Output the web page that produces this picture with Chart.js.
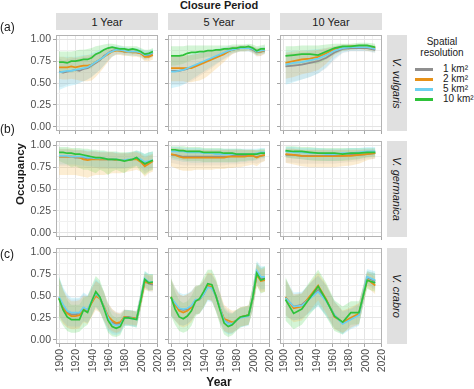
<!DOCTYPE html>
<html>
<head>
<meta charset="utf-8">
<script src="https://cdn.jsdelivr.net/npm/chart.js@4.4.1/dist/chart.umd.min.js"></script>
<style>
  html, body { margin: 0; padding: 0; background: #fff; }
  body { width: 474px; height: 389px; position: relative; overflow: hidden;
         font-family: "Liberation Sans", Arial, sans-serif; color: #1a1a1a; }
  .txt { position: absolute; white-space: nowrap; }
  .strip { position: absolute; background: #e0e0e0; color: #1a1a1a; font-size: 11px;
           display: flex; align-items: center; justify-content: center; }
  .rstrip { writing-mode: vertical-rl; font-style: italic; }
  .ylab { position: absolute; writing-mode: vertical-rl; transform: rotate(180deg);
          font-size: 10.5px; line-height: 12px; width: 12px; color: #4d4d4d; white-space: nowrap; }
  canvas { position: absolute; }
</style>
</head>
<body>
<script>
// ---- categories / ticks ----
const closure = ['1 Year', '5 Year', '10 Year'];
const species = ['V. vulgaris', 'V. germanica', 'V. crabro'];
const resolutions = ['1 km²', '2 km²', '5 km²', '10 km²'];
const rowTags = ['(a)', '(b)', '(c)'];

const years5  = [1900,1905,1910,1915,1920,1925,1930,1935,1940,1945,1950,1955,1960,1965,1970,1975,1980,1985,1990,1995,2000,2005,2010,2015];
const years10 = [1903,1913,1923,1933,1943,1953,1963,1973,1983,1993,2003,2013];

// ---- V. vulgaris, 1 year ----
const a1_k1     = [.63,.62,.63,.64,.65,.64,.66,.67,.70,.73,.76,.81,.84,.87,.88,.87,.86,.86,.86,.85,.84,.81,.82,.84];
const a1_k1_lo  = [.45,.46,.48,.50,.50,.50,.52,.54,.57,.61,.65,.70,.75,.80,.83,.83,.82,.82,.82,.81,.80,.76,.77,.80];
const a1_k1_hi  = [.78,.76,.77,.78,.79,.78,.80,.80,.82,.84,.86,.88,.90,.91,.91,.91,.90,.90,.90,.89,.88,.86,.86,.88];
const a1_k2     = [.68,.68,.68,.69,.68,.69,.70,.70,.71,.74,.77,.80,.83,.86,.87,.87,.86,.86,.85,.85,.84,.80,.80,.82];
const a1_k2_lo  = [.55,.54,.54,.55,.54,.53,.52,.52,.53,.57,.62,.68,.74,.80,.82,.82,.81,.81,.80,.80,.79,.75,.75,.77];
const a1_k2_hi  = [.80,.80,.79,.80,.79,.80,.81,.82,.82,.84,.86,.88,.90,.91,.91,.90,.89,.89,.88,.88,.87,.84,.84,.86];
const a1_k5     = [.62,.63,.64,.64,.65,.66,.67,.68,.71,.74,.77,.80,.84,.86,.88,.88,.87,.86,.86,.86,.85,.82,.83,.85];
const a1_k5_lo  = [.42,.44,.46,.47,.48,.50,.52,.54,.57,.61,.65,.70,.76,.80,.83,.83,.82,.81,.81,.81,.80,.77,.78,.80];
const a1_k5_hi  = [.80,.80,.80,.80,.80,.81,.82,.82,.84,.86,.88,.89,.91,.92,.92,.92,.91,.90,.90,.90,.89,.87,.87,.89];
const a1_k10    = [.74,.74,.73,.75,.75,.76,.77,.77,.79,.83,.85,.88,.90,.91,.90,.89,.89,.88,.89,.88,.86,.83,.84,.86];
const a1_k10_lo = [.62,.61,.62,.62,.63,.64,.66,.66,.67,.72,.75,.78,.84,.86,.86,.85,.84,.84,.83,.84,.82,.78,.79,.82];
const a1_k10_hi = [.86,.86,.86,.86,.87,.88,.88,.89,.90,.92,.93,.94,.95,.95,.94,.93,.92,.92,.92,.92,.90,.88,.88,.90];

// ---- V. vulgaris, 5 year ----
const a2_k1     = [.64,.64,.64,.65,.66,.68,.70,.72,.74,.76,.78,.80,.82,.84,.86,.88,.89,.90,.90,.90,.88,.85,.86,.87];
const a2_k1_lo  = [.48,.48,.48,.49,.50,.52,.55,.58,.61,.64,.67,.71,.74,.77,.80,.83,.85,.86,.86,.86,.84,.80,.81,.83];
const a2_k1_hi  = [.80,.80,.80,.80,.81,.82,.83,.84,.85,.86,.87,.88,.89,.90,.91,.92,.92,.93,.93,.93,.92,.89,.90,.91];
const a2_k2     = [.67,.67,.67,.67,.67,.67,.69,.71,.73,.75,.77,.79,.81,.83,.86,.88,.89,.90,.90,.91,.89,.86,.86,.88];
const a2_k2_lo  = [.52,.52,.52,.52,.51,.51,.52,.53,.55,.58,.62,.66,.70,.74,.79,.83,.85,.86,.86,.87,.85,.81,.81,.84];
const a2_k2_hi  = [.82,.82,.82,.82,.82,.82,.83,.84,.85,.86,.87,.88,.89,.90,.91,.92,.92,.93,.93,.93,.92,.90,.90,.91];
const a2_k5     = [.63,.63,.64,.65,.67,.69,.71,.73,.75,.77,.79,.81,.83,.85,.87,.88,.89,.90,.90,.90,.89,.86,.87,.88];
const a2_k5_lo  = [.44,.45,.46,.48,.51,.54,.57,.60,.63,.66,.69,.72,.75,.78,.81,.84,.85,.86,.86,.86,.85,.82,.83,.84];
const a2_k5_hi  = [.80,.80,.81,.81,.82,.83,.84,.85,.86,.87,.88,.89,.90,.91,.92,.92,.92,.93,.93,.93,.92,.90,.91,.92];
const a2_k10    = [.81,.81,.81,.82,.84,.85,.85,.86,.86,.87,.87,.88,.88,.89,.89,.90,.90,.91,.91,.92,.90,.87,.89,.89];
const a2_k10_lo = [.70,.70,.71,.72,.74,.76,.77,.78,.79,.80,.80,.81,.82,.83,.84,.85,.86,.87,.87,.88,.86,.82,.84,.84];
const a2_k10_hi = [.92,.92,.92,.92,.93,.93,.93,.93,.93,.93,.93,.93,.93,.93,.93,.94,.94,.94,.94,.95,.94,.92,.93,.94];

// ---- V. vulgaris, 10 year ----
const a3_k1     = [.69,.70,.71,.73,.75,.79,.85,.89,.90,.90,.90,.88];
const a3_k1_lo  = [.50,.52,.54,.57,.61,.67,.76,.84,.86,.86,.86,.84];
const a3_k1_hi  = [.84,.84,.85,.86,.87,.89,.91,.93,.93,.93,.93,.92];
const a3_k2     = [.73,.75,.77,.78,.80,.84,.89,.91,.92,.92,.91,.90];
const a3_k2_lo  = [.55,.57,.60,.62,.65,.72,.82,.87,.88,.89,.87,.86];
const a3_k2_hi  = [.85,.86,.87,.87,.88,.90,.92,.94,.94,.94,.94,.93];
const a3_k5     = [.71,.73,.74,.76,.78,.82,.87,.90,.91,.91,.91,.89];
const a3_k5_lo  = [.48,.51,.54,.57,.61,.68,.78,.85,.87,.87,.87,.85];
const a3_k5_hi  = [.86,.87,.87,.88,.89,.90,.92,.94,.94,.94,.94,.93];
const a3_k10    = [.81,.82,.83,.83,.82,.86,.90,.92,.92,.93,.93,.91];
const a3_k10_lo = [.68,.70,.72,.72,.72,.77,.83,.87,.88,.89,.89,.87];
const a3_k10_hi = [.92,.92,.93,.93,.93,.94,.95,.95,.95,.96,.96,.95];

// ---- V. germanica, 1 year ----
const b1_k1     = [.87,.87,.87,.87,.86,.86,.86,.85,.85,.85,.84,.84,.84,.84,.83,.83,.83,.83,.84,.85,.82,.78,.80,.82];
const b1_k1_lo  = [.76,.76,.76,.76,.76,.75,.75,.74,.74,.74,.73,.73,.73,.73,.73,.73,.73,.74,.75,.76,.73,.68,.71,.73];
const b1_k1_hi  = [.95,.95,.95,.95,.94,.94,.94,.93,.93,.93,.92,.92,.92,.92,.91,.91,.91,.91,.92,.93,.91,.88,.89,.91];
const b1_k2     = [.87,.87,.87,.87,.87,.86,.84,.83,.84,.84,.84,.84,.84,.84,.83,.83,.83,.83,.84,.84,.81,.76,.79,.82];
const b1_k2_lo  = [.66,.66,.66,.66,.66,.65,.64,.63,.65,.66,.66,.66,.67,.68,.68,.68,.69,.70,.71,.72,.70,.64,.68,.70];
const b1_k2_hi  = [.96,.96,.96,.96,.95,.95,.94,.93,.93,.93,.92,.92,.92,.92,.91,.91,.91,.91,.92,.92,.90,.86,.88,.90];
const b1_k5     = [.88,.88,.88,.87,.87,.87,.87,.86,.86,.85,.85,.85,.84,.84,.84,.83,.83,.84,.84,.86,.84,.81,.82,.83];
const b1_k5_lo  = [.78,.78,.78,.78,.78,.77,.77,.76,.76,.75,.75,.75,.74,.74,.74,.74,.74,.75,.76,.77,.75,.71,.73,.75];
const b1_k5_hi  = [.96,.96,.96,.95,.95,.95,.95,.94,.94,.93,.93,.93,.92,.92,.92,.91,.91,.92,.92,.94,.93,.90,.92,.93];
const b1_k10    = [.92,.92,.91,.91,.90,.90,.89,.88,.87,.86,.86,.85,.84,.84,.84,.83,.82,.83,.84,.86,.82,.79,.81,.83];
const b1_k10_lo = [.82,.80,.78,.75,.76,.74,.72,.72,.70,.68,.72,.70,.66,.70,.72,.70,.68,.72,.74,.76,.70,.66,.70,.72];
const b1_k10_hi = [.98,.98,.98,.97,.97,.97,.96,.96,.95,.95,.94,.94,.93,.93,.93,.92,.92,.92,.93,.94,.92,.90,.92,.93];

// ---- V. germanica, 5 year ----
const b2_k1     = [.89,.89,.88,.87,.87,.87,.87,.87,.87,.87,.87,.87,.87,.87,.87,.88,.88,.88,.88,.88,.88,.87,.88,.89];
const b2_k1_lo  = [.80,.79,.78,.77,.77,.77,.77,.77,.77,.77,.77,.77,.77,.77,.78,.78,.78,.79,.79,.80,.80,.79,.81,.82];
const b2_k1_hi  = [.96,.96,.96,.95,.95,.95,.95,.95,.95,.95,.95,.95,.95,.95,.95,.95,.95,.95,.95,.95,.95,.94,.95,.95];
const b2_k2     = [.90,.89,.87,.86,.86,.86,.86,.86,.86,.86,.86,.86,.86,.86,.87,.87,.87,.87,.87,.88,.88,.86,.88,.89];
const b2_k2_lo  = [.76,.74,.72,.71,.71,.71,.72,.72,.72,.72,.72,.73,.73,.73,.74,.74,.75,.75,.76,.77,.78,.76,.80,.82];
const b2_k2_hi  = [.97,.97,.96,.96,.95,.95,.95,.95,.95,.95,.95,.95,.95,.95,.95,.95,.95,.95,.95,.95,.95,.94,.95,.95];
const b2_k5     = [.93,.93,.93,.93,.92,.92,.92,.92,.91,.91,.91,.90,.90,.90,.90,.90,.90,.90,.90,.90,.90,.91,.92,.92];
const b2_k5_lo  = [.84,.83,.82,.81,.81,.80,.80,.80,.80,.80,.80,.80,.80,.80,.80,.80,.80,.81,.81,.82,.82,.83,.85,.85];
const b2_k5_hi  = [.98,.98,.98,.97,.97,.97,.97,.97,.96,.96,.96,.96,.96,.96,.96,.96,.96,.96,.96,.96,.96,.96,.97,.97];
const b2_k10    = [.95,.95,.94,.94,.93,.93,.93,.93,.92,.92,.92,.92,.92,.91,.91,.91,.90,.90,.90,.90,.90,.90,.91,.91];
const b2_k10_lo = [.86,.85,.84,.83,.82,.82,.82,.82,.81,.81,.81,.81,.81,.81,.81,.81,.81,.82,.82,.83,.83,.84,.86,.86];
const b2_k10_hi = [.99,.99,.99,.99,.98,.98,.98,.98,.97,.97,.97,.97,.97,.96,.96,.96,.96,.96,.95,.95,.95,.95,.96,.96];

// ---- V. germanica, 10 year ----
const b3_k1     = [.89,.89,.88,.88,.88,.88,.88,.88,.89,.89,.90,.91];
const b3_k1_lo  = [.80,.80,.79,.79,.79,.79,.79,.80,.81,.82,.84,.85];
const b3_k1_hi  = [.96,.96,.95,.95,.95,.95,.95,.95,.95,.95,.96,.96];
const b3_k2     = [.90,.89,.88,.875,.875,.875,.875,.88,.88,.89,.90,.91];
const b3_k2_lo  = [.80,.78,.76,.75,.75,.75,.75,.76,.77,.79,.83,.85];
const b3_k2_hi  = [.96,.96,.95,.95,.95,.95,.95,.95,.95,.95,.95,.95];
const b3_k5     = [.93,.92,.92,.91,.91,.90,.90,.91,.91,.92,.93,.93];
const b3_k5_lo  = [.86,.85,.84,.83,.83,.82,.82,.83,.84,.85,.87,.88];
const b3_k5_hi  = [.98,.98,.97,.97,.97,.96,.96,.96,.97,.97,.98,.98];
const b3_k10    = [.94,.93,.93,.92,.91,.91,.91,.90,.91,.91,.92,.92];
const b3_k10_lo = [.86,.85,.84,.83,.82,.82,.82,.82,.83,.84,.86,.87];
const b3_k10_hi = [.99,.99,.98,.98,.97,.97,.97,.97,.97,.97,.97,.97];

// ---- V. crabro, 1 year ----
const c1_k1     = [.48,.38,.31,.29,.29,.30,.36,.34,.43,.52,.48,.37,.26,.20,.18,.18,.26,.26,.25,.24,.45,.67,.64,.63];
const c1_k1_lo  = [.27,.19,.14,.13,.13,.14,.21,.19,.27,.36,.32,.22,.12,.08,.07,.08,.17,.17,.16,.16,.36,.58,.55,.54];
const c1_k1_hi  = [.70,.58,.50,.46,.46,.47,.52,.50,.59,.68,.64,.54,.42,.35,.32,.31,.35,.34,.34,.33,.54,.76,.73,.72];
const c1_k2     = [.48,.36,.30,.27,.27,.28,.35,.33,.42,.50,.47,.38,.27,.22,.19,.20,.26,.25,.25,.24,.44,.66,.65,.65];
const c1_k2_lo  = [.27,.18,.14,.12,.12,.13,.20,.18,.26,.34,.31,.22,.13,.10,.08,.10,.18,.17,.17,.16,.35,.57,.56,.56];
const c1_k2_hi  = [.70,.56,.48,.44,.44,.45,.50,.49,.58,.67,.64,.55,.42,.35,.31,.30,.34,.33,.33,.32,.53,.75,.74,.74];
const c1_k5     = [.49,.40,.33,.31,.31,.31,.37,.34,.44,.53,.48,.37,.25,.18,.16,.17,.25,.25,.24,.23,.46,.70,.66,.66];
const c1_k5_lo  = [.28,.21,.16,.15,.15,.15,.21,.19,.28,.37,.32,.21,.10,.06,.05,.07,.16,.16,.15,.14,.37,.61,.57,.57];
const c1_k5_hi  = [.72,.60,.52,.48,.48,.48,.54,.51,.60,.70,.65,.55,.41,.33,.30,.29,.34,.34,.33,.32,.55,.79,.75,.75];
const c1_k10    = [.47,.34,.26,.23,.23,.23,.34,.31,.44,.55,.49,.36,.22,.15,.13,.15,.25,.25,.24,.23,.45,.69,.65,.66];
const c1_k10_lo = [.24,.16,.10,.08,.08,.09,.14,.17,.27,.38,.32,.20,.08,.04,.03,.05,.16,.16,.15,.14,.34,.60,.56,.57];
const c1_k10_hi = [.72,.58,.45,.40,.40,.40,.48,.50,.62,.73,.68,.55,.38,.28,.25,.26,.34,.34,.33,.32,.55,.78,.75,.75];

// ---- V. crabro, 5 year ----
const c2_k1     = [.48,.41,.35,.34,.35,.38,.45,.46,.52,.61,.60,.50,.36,.23,.19,.18,.22,.26,.27,.28,.47,.76,.70,.70];
const c2_k1_lo  = [.28,.22,.17,.16,.18,.22,.29,.30,.37,.46,.44,.33,.20,.10,.07,.07,.11,.15,.16,.17,.34,.63,.56,.56];
const c2_k1_hi  = [.68,.58,.52,.50,.52,.55,.61,.62,.67,.76,.75,.67,.53,.38,.34,.31,.34,.37,.38,.39,.59,.88,.82,.83];
const c2_k2     = [.49,.40,.33,.31,.33,.37,.45,.46,.53,.62,.60,.50,.36,.24,.22,.20,.22,.26,.27,.28,.47,.74,.67,.68];
const c2_k2_lo  = [.28,.22,.16,.14,.16,.20,.29,.30,.37,.46,.44,.33,.20,.10,.08,.08,.11,.15,.16,.17,.34,.62,.54,.55];
const c2_k2_hi  = [.70,.60,.52,.50,.52,.55,.62,.62,.68,.77,.76,.68,.54,.40,.36,.33,.34,.37,.38,.39,.60,.86,.80,.82];
const c2_k5     = [.48,.42,.36,.35,.36,.39,.46,.46,.52,.60,.59,.50,.36,.22,.18,.18,.22,.25,.26,.27,.48,.79,.72,.72];
const c2_k5_lo  = [.27,.22,.17,.16,.18,.22,.29,.30,.36,.44,.43,.33,.20,.09,.06,.07,.11,.14,.15,.16,.35,.66,.58,.58];
const c2_k5_hi  = [.70,.60,.54,.52,.53,.56,.62,.62,.67,.75,.74,.67,.53,.37,.32,.30,.34,.36,.37,.38,.60,.90,.84,.84];
const c2_k10    = [.49,.35,.26,.24,.27,.33,.44,.47,.55,.64,.63,.50,.34,.19,.15,.17,.22,.26,.27,.28,.48,.76,.68,.70];
const c2_k10_lo = [.27,.17,.10,.08,.10,.16,.27,.30,.37,.46,.45,.32,.17,.06,.03,.05,.10,.14,.16,.17,.33,.62,.53,.55];
const c2_k10_hi = [.70,.55,.45,.42,.44,.50,.60,.63,.72,.80,.80,.70,.52,.35,.30,.30,.34,.37,.38,.39,.62,.88,.82,.84];

// ---- V. crabro, 10 year ----
const c3_k1     = [.48,.38,.40,.48,.57,.45,.28,.19,.24,.29,.71,.67];
const c3_k1_lo  = [.28,.22,.24,.32,.40,.28,.13,.07,.13,.17,.62,.57];
const c3_k1_hi  = [.68,.52,.54,.64,.74,.62,.44,.33,.36,.41,.79,.76];
const c3_k2     = [.49,.36,.38,.50,.62,.46,.26,.20,.25,.30,.69,.62];
const c3_k2_lo  = [.28,.20,.22,.33,.45,.30,.12,.08,.14,.18,.60,.52];
const c3_k2_hi  = [.70,.52,.53,.65,.77,.63,.43,.33,.37,.42,.77,.72];
const c3_k5     = [.48,.38,.39,.47,.55,.44,.28,.18,.23,.28,.72,.68];
const c3_k5_lo  = [.27,.22,.24,.31,.38,.27,.13,.06,.12,.16,.64,.59];
const c3_k5_hi  = [.70,.54,.55,.65,.73,.62,.44,.32,.35,.40,.81,.78];
const c3_k10    = [.46,.30,.35,.48,.61,.45,.27,.20,.31,.31,.68,.65];
const c3_k10_lo = [.22,.12,.17,.29,.40,.26,.10,.06,.17,.18,.58,.55];
const c3_k10_hi = [.72,.50,.53,.67,.80,.65,.45,.38,.44,.44,.78,.76];

// ---- panel table built from the arrays ----
const panels = [
  [
    { yrs: years5,  mean: [a1_k1, a1_k2, a1_k5, a1_k10], lo: [a1_k1_lo, a1_k2_lo, a1_k5_lo, a1_k10_lo], hi: [a1_k1_hi, a1_k2_hi, a1_k5_hi, a1_k10_hi] },
    { yrs: years5,  mean: [a2_k1, a2_k2, a2_k5, a2_k10], lo: [a2_k1_lo, a2_k2_lo, a2_k5_lo, a2_k10_lo], hi: [a2_k1_hi, a2_k2_hi, a2_k5_hi, a2_k10_hi] },
    { yrs: years10, mean: [a3_k1, a3_k2, a3_k5, a3_k10], lo: [a3_k1_lo, a3_k2_lo, a3_k5_lo, a3_k10_lo], hi: [a3_k1_hi, a3_k2_hi, a3_k5_hi, a3_k10_hi] }
  ],
  [
    { yrs: years5,  mean: [b1_k1, b1_k2, b1_k5, b1_k10], lo: [b1_k1_lo, b1_k2_lo, b1_k5_lo, b1_k10_lo], hi: [b1_k1_hi, b1_k2_hi, b1_k5_hi, b1_k10_hi] },
    { yrs: years5,  mean: [b2_k1, b2_k2, b2_k5, b2_k10], lo: [b2_k1_lo, b2_k2_lo, b2_k5_lo, b2_k10_lo], hi: [b2_k1_hi, b2_k2_hi, b2_k5_hi, b2_k10_hi] },
    { yrs: years10, mean: [b3_k1, b3_k2, b3_k5, b3_k10], lo: [b3_k1_lo, b3_k2_lo, b3_k5_lo, b3_k10_lo], hi: [b3_k1_hi, b3_k2_hi, b3_k5_hi, b3_k10_hi] }
  ],
  [
    { yrs: years5,  mean: [c1_k1, c1_k2, c1_k5, c1_k10], lo: [c1_k1_lo, c1_k2_lo, c1_k5_lo, c1_k10_lo], hi: [c1_k1_hi, c1_k2_hi, c1_k5_hi, c1_k10_hi] },
    { yrs: years5,  mean: [c2_k1, c2_k2, c2_k5, c2_k10], lo: [c2_k1_lo, c2_k2_lo, c2_k5_lo, c2_k10_lo], hi: [c2_k1_hi, c2_k2_hi, c2_k5_hi, c2_k10_hi] },
    { yrs: years10, mean: [c3_k1, c3_k2, c3_k5, c3_k10], lo: [c3_k1_lo, c3_k2_lo, c3_k5_lo, c3_k10_lo], hi: [c3_k1_hi, c3_k2_hi, c3_k5_hi, c3_k10_hi] }
  ]
];

// ---- styling ----
const lineCols = ['#8f8f8f', '#e69118', '#6cd0f0', '#2ec23a'];
const bandCols = ['rgba(150,150,150,0.13)', 'rgba(245,185,80,0.26)', 'rgba(100,215,245,0.25)', 'rgba(60,210,70,0.22)'];
const panelLeft = [56, 168, 280];
const panelTop  = [35, 141, 248];
const PW = 102, PH = 96;
const FONT = 'Liberation Sans, Arial, sans-serif';

const isMajor = (v, step) => Math.abs(v / step - Math.round(v / step)) < 1e-6;
const pts = (xs, ys) => xs.map((x, i) => ({ x: x, y: ys[i] }));

// panel frame drawn around the chart area
const frame = {
  id: 'frame',
  afterDatasetsDraw(chart) {
    const { ctx, chartArea: a } = chart;
    ctx.save();
    ctx.strokeStyle = '#b3b3b3';
    ctx.lineWidth = 1;
    ctx.strokeRect(Math.round(a.left) + 0.5, Math.round(a.top) + 0.5, Math.round(a.width) - 1, Math.round(a.height) - 1);
    ctx.restore();
  }
};

function makePanel(r, c) {
  const p = panels[r][c];
  const padL = c === 0 ? 44 : 6, padB = 6, padT = 2, padR = 2;
  const cv = document.createElement('canvas');
  cv.width = padL + PW + padR;
  cv.height = padT + PH + padB;
  const cl = panelLeft[c] - padL, ct = panelTop[r] - padT;
  cv.style.left = cl + 'px';
  cv.style.top = ct + 'px';
  cv.style.width = cv.width + 'px';
  cv.style.height = cv.height + 'px';
  document.body.appendChild(cv);

  const ds = [];
  for (let k = 0; k < 4; k++) {
    ds.push({ data: pts(p.yrs, p.lo[k]), borderWidth: 0, borderColor: 'rgba(0,0,0,0)', pointRadius: 0, fill: false, order: 20 + k });
    ds.push({ data: pts(p.yrs, p.hi[k]), borderWidth: 0, borderColor: 'rgba(0,0,0,0)', pointRadius: 0,
              backgroundColor: bandCols[k], fill: '-1', order: 20 + k });
  }
  for (let k = 0; k < 4; k++) {
    ds.push({ data: pts(p.yrs, p.mean[k]), borderColor: lineCols[k], borderWidth: 1.7, pointRadius: 0, fill: false, order: 3 - k });
  }

  const chart = new Chart(cv, {
    type: 'line',
    data: { datasets: ds },
    options: {
      responsive: false,
      animation: false,
      devicePixelRatio: 1,
      layout: { padding: { top: padT, right: padR, left: 0, bottom: 0 } },
      elements: { line: { tension: 0 } },
      plugins: { legend: { display: false }, tooltip: { enabled: false } },
      scales: {
        x: {
          type: 'linear', min: 1896.3, max: 2021.2,
          afterFit: s => { s.height = padB; s.paddingLeft = 0; s.paddingRight = 0; },
          border: { display: false },
          grid: {
            color: ctx => isMajor(ctx.tick.value, 20) ? '#e4e4e4' : '#f1f1f1',
            tickColor: ctx => isMajor(ctx.tick.value, 20) ? '#a6a6a6' : 'rgba(0,0,0,0)',
            tickLength: 3
          },
          ticks: { display: false, stepSize: 10, includeBounds: false, autoSkip: false }
        },
        y: {
          min: -0.05, max: 1.05,
          afterFit: s => { s.width = padL; s.paddingTop = 0; s.paddingBottom = 0; },
          border: { display: false },
          grid: {
            color: ctx => isMajor(ctx.tick.value, 0.25) ? '#e4e4e4' : '#f1f1f1',
            tickColor: ctx => isMajor(ctx.tick.value, 0.25) ? '#a6a6a6' : 'rgba(0,0,0,0)',
            tickLength: 3
          },
          ticks: {
            display: c === 0, stepSize: 0.125, includeBounds: false, autoSkip: false, padding: 2,
            color: '#4d4d4d', font: { family: FONT, size: 10.5 },
            callback: v => isMajor(v, 0.25) ? v.toFixed(2) : ''
          }
        }
      }
    },
    plugins: [frame]
  });

  // vertical year labels under the bottom row, placed with the chart's x scale
  if (r === 2) {
    const sx = chart.scales.x;
    sx.ticks.filter(t => isMajor(t.value, 20)).forEach(t => {
      const d = document.createElement('div');
      d.className = 'ylab';
      d.textContent = String(t.value);
      d.style.left = (cl + sx.getPixelForValue(t.value) - 6) + 'px';
      d.style.top = (ct + chart.chartArea.bottom + 5) + 'px';
      document.body.appendChild(d);
    });
  }
}

function addText(txt, css) {
  const d = document.createElement('div');
  d.className = 'txt';
  d.textContent = txt;
  Object.assign(d.style, css);
  document.body.appendChild(d);
  return d;
}

// strips
closure.forEach((t, c) => {
  const s = document.createElement('div');
  s.className = 'strip';
  s.textContent = t;
  Object.assign(s.style, { left: panelLeft[c] + 'px', top: '13px', width: PW + 'px', height: '17px' });
  document.body.appendChild(s);
});
species.forEach((t, r) => {
  const s = document.createElement('div');
  s.className = 'strip rstrip';
  s.textContent = t;
  Object.assign(s.style, { left: '387px', top: panelTop[r] + 'px', width: '20px', height: PH + 'px' });
  document.body.appendChild(s);
});

for (let r = 0; r < 3; r++) for (let c = 0; c < 3; c++) makePanel(r, c);

// titles and tags
addText('Closure Period', { left: '56px', width: '326px', textAlign: 'center', top: '-1px', fontSize: '11px', fontWeight: 'bold' });
addText('Year', { left: '56px', width: '326px', textAlign: 'center', top: '375px', fontSize: '12px', fontWeight: 'bold' });
addText('Occupancy', { left: '20px', top: '174px', fontSize: '11.5px', fontWeight: 'bold', transform: 'translate(-50%,-50%) rotate(-90deg)' });
const tagY = [20, 122, 247];
rowTags.forEach((t, i) => addText(t, { left: '0px', top: tagY[i] + 'px', fontSize: '12px' }));

// legend
addText('Spatial', { left: '407px', width: '70px', textAlign: 'center', top: '36px', fontSize: '10px' });
addText('resolution', { left: '407px', width: '70px', textAlign: 'center', top: '47px', fontSize: '10px' });
resolutions.forEach((t, k) => {
  const y = 69 + k * 10;
  const ln = document.createElement('div');
  Object.assign(ln.style, { position: 'absolute', left: '415px', top: (y - 1) + 'px', width: '18px', height: '2.5px', background: lineCols[k] });
  document.body.appendChild(ln);
  addText(t, { left: '443px', top: (y - 6) + 'px', fontSize: '10px' });
});
</script>
</body>
</html>
